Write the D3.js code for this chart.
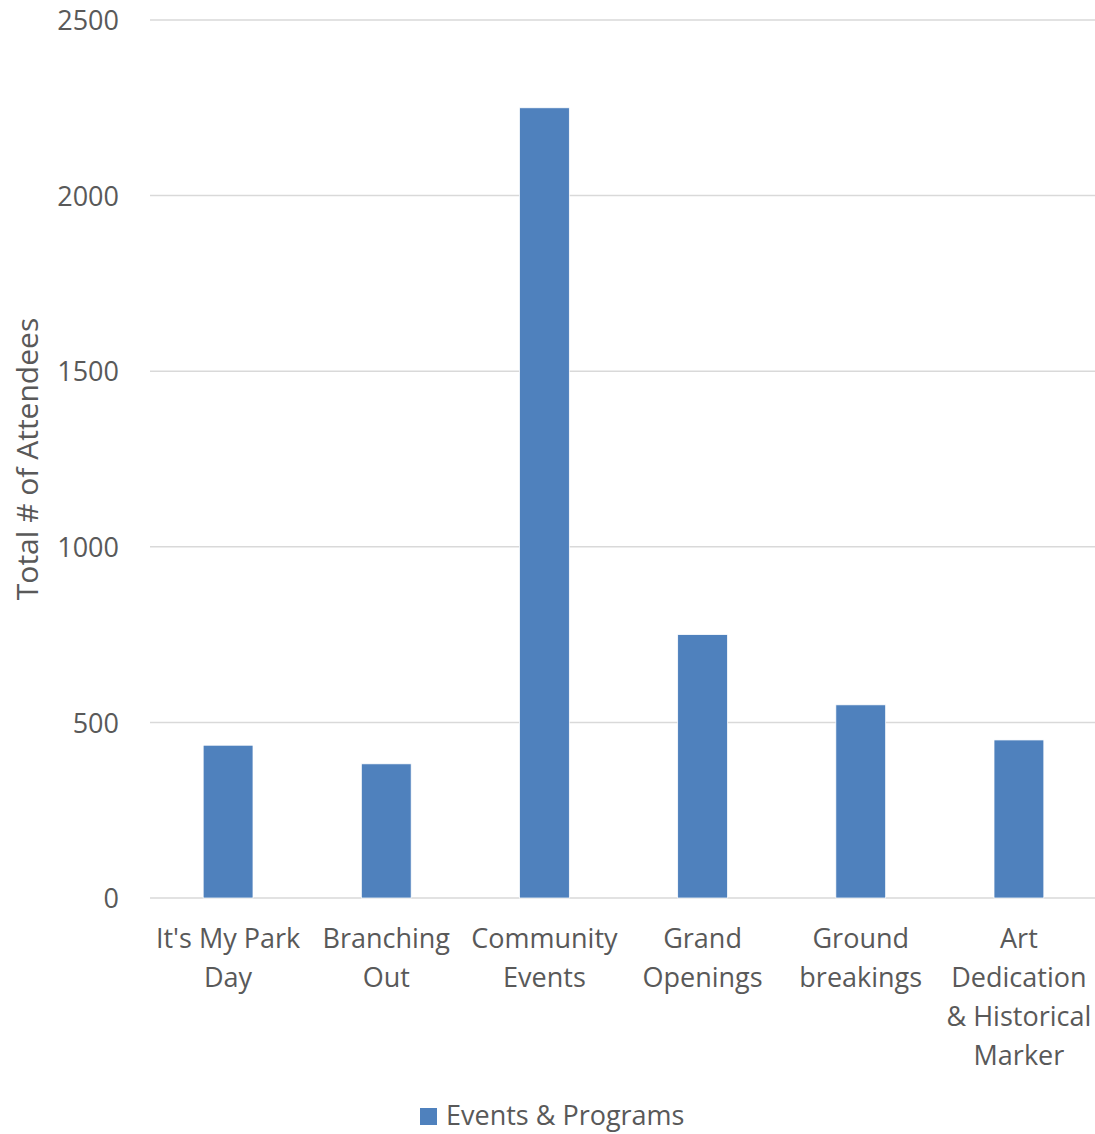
<!DOCTYPE html>
<html>
<head>
<meta charset="utf-8">
<script src="https://cdn.jsdelivr.net/npm/d3@7"></script>
<style>
  body { margin: 0; background: #fff; }
  text { font-family: "Open Sans", sans-serif; fill: #595959; }
</style>
</head>
<body>
<svg id="chart" width="1095" height="1134"></svg>
<script>
const categories = [
  ["It's My Park", "Day"],
  ["Branching", "Out"],
  ["Community", "Events"],
  ["Grand", "Openings"],
  ["Ground", "breakings"],
  ["Art", "Dedication", "& Historical", "Marker"]
];
const attendees = [435, 382, 2250, 750, 550, 450];
const yTicks = [0, 500, 1000, 1500, 2000, 2500];
const seriesName = "Events & Programs";
const yTitle = "Total # of Attendees";

const barColor = "#4f81bd";
const margin = { top: 20, right: 0, bottom: 236, left: 150 };
const width = 1095, height = 1134;

const svg = d3.select("#chart");

const x = d3.scaleBand()
  .domain(d3.range(categories.length))
  .range([149, 1098])
  .paddingInner(0.685)
  .paddingOuter(0.3425);

const y = d3.scaleLinear()
  .domain([0, 2500])
  .range([height - margin.bottom, margin.top]);

// gridlines
svg.append("g")
  .selectAll("line")
  .data(yTicks)
  .enter()
  .append("line")
  .attr("x1", margin.left)
  .attr("x2", width - margin.right)
  .attr("y1", d => y(d))
  .attr("y2", d => y(d))
  .attr("stroke", "#d9d9d9")
  .attr("stroke-width", 1.5);

// y axis labels
const yAxis = svg.append("g")
  .attr("transform", `translate(${margin.left - 31},0)`)
  .call(d3.axisLeft(y).tickValues(yTicks).tickFormat(d3.format("d")).tickSize(0).tickPadding(0));
yAxis.select(".domain").remove();
yAxis.attr("font-family", null);
yAxis.selectAll("text")
  .attr("font-size", 27)
  .attr("dy", "0.36em");

// bars
svg.append("g")
  .selectAll("rect")
  .data(attendees)
  .enter()
  .append("rect")
  .attr("x", (d, i) => x(i))
  .attr("width", x.bandwidth())
  .attr("y", d => y(d))
  .attr("height", d => y(0) - y(d))
  .attr("fill", barColor)
  .attr("stroke", "#ffffff")
  .attr("stroke-width", 0.75);

// category labels
const labels = svg.append("g")
  .selectAll("text")
  .data(categories)
  .enter()
  .append("text")
  .attr("text-anchor", "middle")
  .attr("font-size", 27)
  .attr("x", (d, i) => x(i) + x.bandwidth() / 2)
  .attr("y", y(0) + 50);
labels.selectAll("tspan")
  .data(d => d)
  .enter()
  .append("tspan")
  .attr("x", function () { return this.parentNode.getAttribute("x"); })
  .attr("dy", (d, i) => i === 0 ? 0 : 39)
  .text(d => d);

// y title
svg.append("text")
  .attr("transform", `translate(38,${(y(0) + y(2500)) / 2}) rotate(-90)`)
  .attr("text-anchor", "middle")
  .attr("font-size", 30)
  .text(yTitle);

// legend
const legend = svg.append("g").attr("transform", "translate(420,1108)");
legend.append("rect")
  .attr("width", 17)
  .attr("height", 17)
  .attr("fill", barColor);
legend.append("text")
  .attr("x", 26)
  .attr("y", 17)
  .attr("font-size", 27)
  .text(seriesName);
</script>
</body>
</html>
